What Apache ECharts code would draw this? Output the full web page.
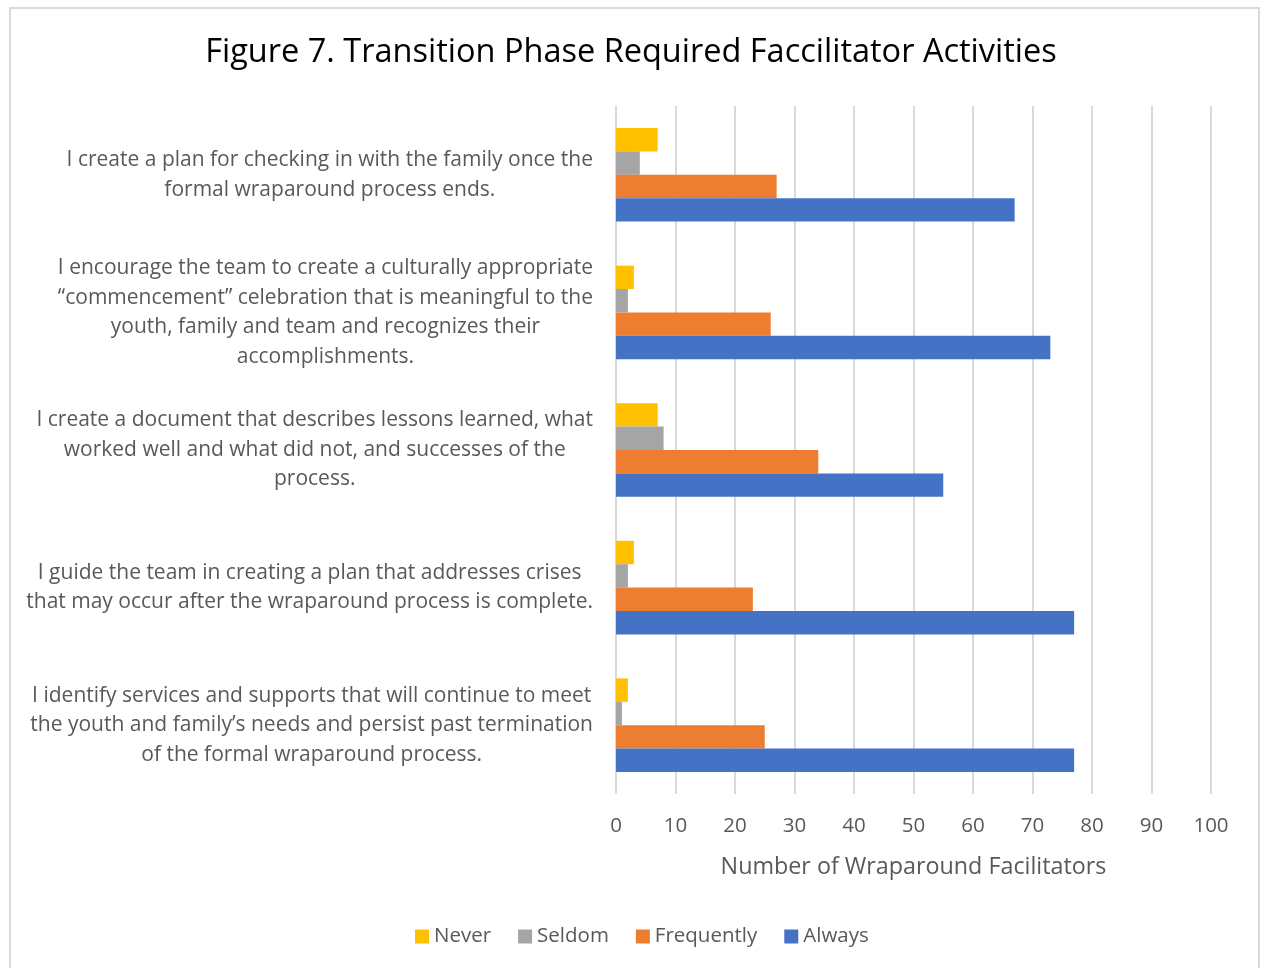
<!DOCTYPE html>
<html>
<head>
<meta charset="utf-8">
<script src="https://cdn.jsdelivr.net/npm/echarts@6/dist/echarts.min.js"></script>
<style>
  html, body { margin: 0; padding: 0; background: #fff; }
  #chart { width: 1262px; height: 968px; }
  #frame {
    position: absolute; left: 9px; top: 7px; width: 1247px; height: 990px;
    border: 2px solid #d9d9d9; pointer-events: none;
  }
</style>
</head>
<body>
<div id="chart"></div>
<div id="frame"></div>
<script>
// categories, top to bottom
const activities = [
    'I create a plan for checking in with the family once the\nformal wraparound process ends.',
    'I encourage the team to create a culturally appropriate\n\u201ccommencement\u201d celebration that is meaningful to the\nyouth, family and team and recognizes their\naccomplishments.',
    'I create a document that describes lessons learned, what\nworked well and what did not, and successes of the\nprocess.',
    'I guide the team in creating a plan that addresses crises\nthat may occur after the wraparound process is complete.',
    'I identify services and supports that will continue to meet\nthe youth and family\u2019s needs and persist past termination\nof the formal wraparound process.'
]

const never = [7, 3, 7, 3, 2]
const seldom = [4, 2, 8, 2, 1]
const frequently = [27, 26, 34, 23, 25]
const always = [67, 73, 55, 77, 77]

const xTicks = [0, 10, 20, 30, 40, 50, 60, 70, 80, 90, 100]

const font = 'Open Sans'
const grey = '#595959'

let myEchart = echarts.init(document.getElementById('chart'))

const bar = (name, data, color) => ({
    name: name,
    type: 'bar',
    data: data,
    barGap: '0%',
    barCategoryGap: '32%',
    itemStyle: { color: color },
    animation: false
})

const option = {
    title: {
        text: 'Figure 7. Transition Phase Required Faccilitator Activities',
        left: 'center',
        top: 31,
        textStyle: { fontFamily: font, fontSize: 32.5, fontWeight: 'normal', color: '#000' }
    },
    legend: {
        data: ['Never', 'Seldom', 'Frequently', 'Always'],
        bottom: 16,
        left: 410,
        icon: 'rect',
        itemWidth: 14,
        itemHeight: 14,
        itemGap: 27,
        textStyle: { fontFamily: font, fontSize: 20.5, color: grey }
    },
    grid: {
        left: 616,
        right: 51,
        top: 106,
        bottom: 174
    },
    xAxis: {
        type: 'value',
        min: xTicks[0],
        max: xTicks[xTicks.length - 1],
        interval: 10,
        name: 'Number of Wraparound Facilitators',
        nameLocation: 'middle',
        nameGap: 62,
        nameTextStyle: { fontFamily: font, fontSize: 23.3, color: grey },
        axisLine: { show: false },
        axisTick: { show: false },
        axisLabel: { fontFamily: font, fontSize: 20.5, color: grey, margin: 22 },
        splitLine: { lineStyle: { color: '#d9d9d9', width: 2 } }
    },
    yAxis: {
        type: 'category',
        inverse: true,
        data: activities,
        axisLine: { show: false },
        axisTick: { show: false },
        axisLabel: {
            margin: 23,
            formatter: v => v.split('\n').map(s => '{c|' + s + '}').join('\n'),
            rich: {
                c: { align: 'center', fontFamily: font, fontSize: 21, color: grey, lineHeight: 29.5 }
            }
        }
    },
    series: [
        bar('Never', never, '#FFC000'),
        bar('Seldom', seldom, '#A5A5A5'),
        bar('Frequently', frequently, '#ED7D31'),
        bar('Always', always, '#4472C4')
    ]
}

myEchart.setOption(option)
</script>
</body>
</html>
